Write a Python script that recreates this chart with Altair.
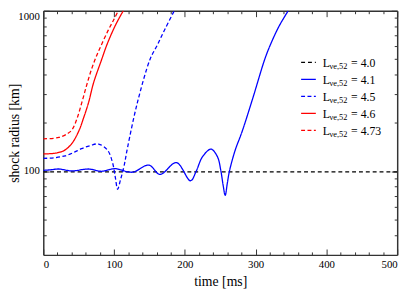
import altair as alt
import pandas as pd

SERIF = "Liberation Serif"
FRAME = "#333333"

# ---- data ----
series_labels = ["4.0", "4.1", "4.5", "4.6", "4.73"]
series_colors = ["#000000", "#0000ff", "#0000ff", "#ff0000", "#ff0000"]
series_dashes = [[4, 3], [1, 0], [4, 2.5], [1, 0], [4, 2.5]]

t_40 = [0, 500]
r_40 = [99, 99]

t_41 = [0, 10, 22, 40, 64, 82, 101, 126, 149, 165, 188, 208, 216, 225, 237, 246,
        251, 254, 257, 260, 263, 271, 281, 296, 313, 321, 333, 346]
r_41 = [101, 101.8, 103, 100.2, 103, 99.7, 103.5, 98.4, 109, 95.3, 113, 87, 99.7,
        123, 137, 123, 99.7, 82, 70.6, 84, 100, 134.5, 177, 285, 500, 616, 800, 1000]

t_45 = [0, 15, 31, 42, 54, 66, 78, 91, 98, 102, 105, 109, 114, 119, 133, 151, 161, 172, 185]
r_45 = [120, 121, 124.5, 130, 138, 144, 147.5, 134.5, 112, 90, 77, 88, 107, 140,
        268, 500, 610, 770, 1000]

t_46 = [0, 15, 29, 40, 50, 57, 64, 71, 82, 90, 100, 106, 113]
r_46 = [128, 129, 134, 148, 177, 215, 268, 355, 490, 616, 780, 880, 1000]

t_473 = [0, 22, 35, 41, 48, 54.5, 61, 68, 75, 83, 92, 99, 106]
r_473 = [159, 162, 172, 182, 215, 268, 340, 430, 520, 625, 760, 870, 1000]

x_label_values = [0, 100, 200, 300, 400, 500]
x_tick_values = list(range(0, 501, 20))
y_label_values = [100, 1000]
y_tick_values = [40, 50, 60, 70, 80, 90, 100, 200, 300, 400, 500, 600, 700, 800, 900, 1000]

all_t = [t_40, t_41, t_45, t_46, t_473]
all_r = [r_40, r_41, r_45, r_46, r_473]

rows = []
for lab, ts, rs in zip(series_labels, all_t, all_r):
    for t, r in zip(ts, rs):
        rows.append({"time": t, "radius": r, "series": lab})
df = pd.DataFrame(rows)

W, H = 361, 249

xs = alt.Scale(domain=[0, 500], nice=False, zero=False)
ys = alt.Scale(type="log", domain=[30, 1000], nice=False)

x_tick_size = {"condition": {"test": "datum.value % 100 === 0", "value": 6}, "value": 3}
y_tick_size = {"condition": {"test": "datum.value === 100 || datum.value === 1000", "value": 6}, "value": 3}

lines = alt.Chart(df).mark_line(strokeWidth=1.3, clip=True, interpolate="catmull-rom").encode(
    x=alt.X("time:Q", scale=xs, axis=alt.Axis(
        orient="bottom", values=x_label_values, format="d", ticks=False, grid=False,
        domain=True, domainColor=FRAME, domainWidth=1.5,
        labelFont=SERIF, labelFontSize=11, labelColor="black", labelPadding=4,
        title="time [ms]", titleFont=SERIF, titleFontSize=14, titleFontWeight="normal",
        titleColor="black", titlePadding=5)),
    y=alt.Y("radius:Q", scale=ys, axis=alt.Axis(
        orient="left", values=y_label_values, format="d", ticks=False, grid=False,
        domain=True, domainColor=FRAME, domainWidth=1.5,
        labelFont=SERIF, labelFontSize=11, labelColor="black", labelPadding=4,
        labelBaseline={"condition": {"test": "datum.value === 1000", "value": "top"}, "value": "middle"},
        title="shock radius [km]", titleFont=SERIF, titleFontSize=14, titleFontWeight="normal",
        titleColor="black", titleX=-29, titleY=H / 2, titleAngle=270,
        titleAlign="center", titleBaseline="middle")),
    color=alt.Color("series:N", scale=alt.Scale(domain=series_labels, range=series_colors), legend=None),
    strokeDash=alt.StrokeDash("series:N", scale=alt.Scale(domain=series_labels, range=series_dashes), legend=None),
    detail="series:N",
)

ticks_a = alt.Chart(df).mark_line(opacity=0).encode(
    x=alt.X("time:Q", scale=xs, axis=alt.Axis(
        orient="top", offset=-H, values=x_tick_values, labels=False, domain=False, grid=False,
        tickSize=x_tick_size, tickColor=FRAME, tickWidth=1, title=None)),
    y=alt.Y("radius:Q", scale=ys, axis=alt.Axis(
        orient="right", offset=-W, values=y_tick_values, labels=False, domain=False, grid=False,
        tickSize=y_tick_size, tickColor=FRAME, tickWidth=1, title=None)),
    detail="series:N",
)

ticks_b = alt.Chart(df).mark_line(opacity=0).encode(
    x=alt.X("time:Q", scale=xs, axis=alt.Axis(
        orient="bottom", offset=-H, values=x_tick_values, labels=False, grid=False,
        domain=True, domainColor=FRAME, domainWidth=1.5,
        tickSize=x_tick_size, tickColor=FRAME, tickWidth=1, title=None)),
    y=alt.Y("radius:Q", scale=ys, axis=alt.Axis(
        orient="left", offset=-W, values=y_tick_values, labels=False, grid=False,
        domain=True, domainColor=FRAME, domainWidth=1.5,
        tickSize=y_tick_size, tickColor=FRAME, tickWidth=1, title=None)),
    detail="series:N",
)

# ---- custom legend with subscripts ----
legend_layers = []
row0, row_step = 52.7, 17.3
for i, lab in enumerate(series_labels):
    yr = row0 + i * row_step
    one = pd.DataFrame({"series": [lab]})
    legend_layers.append(
        alt.Chart(one).mark_rule(color=series_colors[i], strokeDash=series_dashes[i], strokeWidth=1.3)
        .encode(x=alt.value(263), x2=alt.value(278), y=alt.value(yr))
    )
    legend_layers.append(
        alt.Chart(one).mark_text(text="L", align="left", baseline="alphabetic", font=SERIF,
                                 fontSize=12, color="black")
        .encode(x=alt.value(285), y=alt.value(yr + 4.5))
    )
    legend_layers.append(
        alt.Chart(one).mark_text(text="\u03bde,52", align="left", baseline="alphabetic", font=SERIF,
                                 fontSize=8.5, color="black")
        .encode(x=alt.value(292), y=alt.value(yr + 7))
    )
    legend_layers.append(
        alt.Chart(one).mark_text(text="= " + lab, align="left", baseline="alphabetic", font=SERIF,
                                 fontSize=12, color="black")
        .encode(x=alt.value(314), y=alt.value(yr + 4.5))
    )

chart = alt.layer(lines, ticks_a, ticks_b, *legend_layers).resolve_axis(
    x="independent", y="independent"
).properties(
    width=W, height=H,
    padding={"left": 36, "top": 0, "right": 10, "bottom": 33},
    autosize=alt.AutoSizeParams(type="none"),
).configure_view(stroke=None)

chart.save("out.html", embed_options={"renderer": "svg", "actions": False})
